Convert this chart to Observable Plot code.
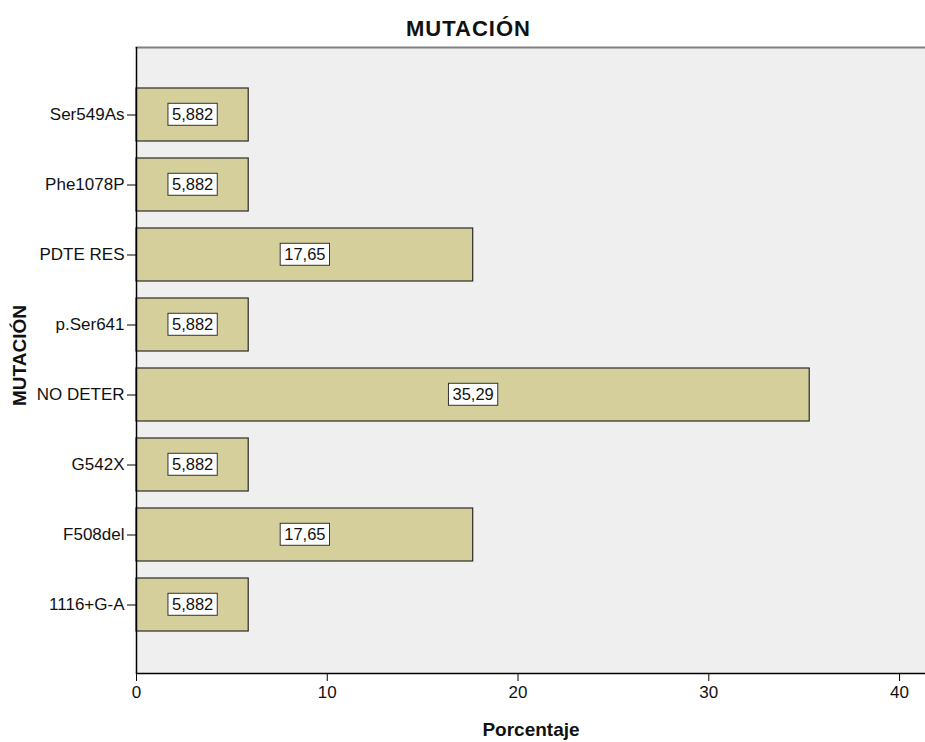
<!DOCTYPE html>
<html>
<head>
<meta charset="utf-8">
<script src="https://cdn.jsdelivr.net/npm/d3@7"></script>
<script src="https://cdn.jsdelivr.net/npm/@observablehq/plot@0.6"></script>
<style>
  html, body { margin: 0; padding: 0; background: #ffffff; }
  #wrap { position: relative; width: 925px; height: 742px; overflow: hidden; }
  #title { position: absolute; top: 16px; left: 6px; width: 925px; text-align: center;
           font-family: "Liberation Sans", Arial, sans-serif; font-weight: bold; font-size: 22px;
           letter-spacing: 1px; color: #111; line-height: 26px; }
  #chart { position: absolute; top: 40px; left: 0; }
  #chart svg { display: block; }
</style>
</head>
<body>
<div id="wrap">
  <div id="title"></div>
  <div id="chart"></div>
</div>
<script>
const chartTitle = "MUTACIÓN";
const xLabel = "Porcentaje";
const yLabel = "MUTACIÓN";
const categories = ["Ser549As", "Phe1078P", "PDTE RES", "p.Ser641", "NO DETER", "G542X", "F508del", "1116+G-A"];
const values = [5.882, 5.882, 17.65, 5.882, 35.29, 5.882, 17.65, 5.882];
const xTicks = [0, 10, 20, 30, 40];

const fmt = v => d3.format(".4~r")(v).replace(".", ",");
const data = categories.map((c, i) => ({category: c, value: values[i], label: fmt(values[i])}));

document.getElementById("title").textContent = chartTitle;

const chart = Plot.plot({
  width: 925,
  height: 702,
  marginTop: 7,
  marginBottom: 69,
  marginLeft: 136,
  marginRight: 0,
  style: {fontFamily: "'Liberation Sans', Arial, sans-serif", fontSize: "16px", color: "#111", background: "white", overflow: "visible"},
  x: {domain: [0, 41.36], ticks: xTicks, label: null},
  y: {domain: categories, paddingInner: 0.24, paddingOuter: 0.56, label: null},
  marks: [
    Plot.frame({fill: "#efefef", stroke: null}),
    Plot.frame({anchor: "top", stroke: "#808080", strokeWidth: 2}),
    Plot.barX(data, {x: "value", y: "category", fill: "#d4cf9b", stroke: "#2a2a2a", strokeWidth: 1.2}),
    Plot.text(data, {x: d => d.value / 2, y: "category", text: "label", fontSize: 16.5, fill: "#111"}),
    Plot.ruleX([0], {stroke: "#000", strokeWidth: 1.5}),
    Plot.frame({anchor: "bottom", stroke: "#000", strokeWidth: 1.5}),
    Plot.axisX({ticks: xTicks, tickSize: 8, tickPadding: 4, label: null, fontSize: 17, tickFormat: d => d, stroke: "#000"}),
    Plot.axisY({tickSize: 9, tickPadding: 3, label: null, fontSize: 17, stroke: "#000"}),
    Plot.text([xLabel], {frameAnchor: "bottom", dy: 62, fontWeight: "bold", fontSize: 19, letterSpacing: 0.5, text: d => d, fill: "#111"}),
    Plot.text([yLabel], {frameAnchor: "left", textAnchor: "middle", dx: -117, dy: -5, rotate: -90, fontWeight: "bold", fontSize: 19, text: d => d, fill: "#111"})
  ]
});

document.getElementById("chart").appendChild(chart);

// white boxes behind value labels
const labelGroup = chart.querySelectorAll('g[aria-label="text"]')[0];
if (labelGroup) {
  labelGroup.querySelectorAll("text").forEach(t => {
    const b = t.getBBox();
    const r = document.createElementNS("http://www.w3.org/2000/svg", "rect");
    r.setAttribute("x", b.x - 4);
    r.setAttribute("y", b.y - 2);
    r.setAttribute("width", b.width + 8);
    r.setAttribute("height", b.height + 4);
    r.setAttribute("fill", "#ffffff");
    r.setAttribute("stroke", "#333");
    r.setAttribute("stroke-width", 1);
    const tr = t.getAttribute("transform");
    if (tr) r.setAttribute("transform", tr);
    t.parentNode.insertBefore(r, t);
  });
}
</script>
</body>
</html>
